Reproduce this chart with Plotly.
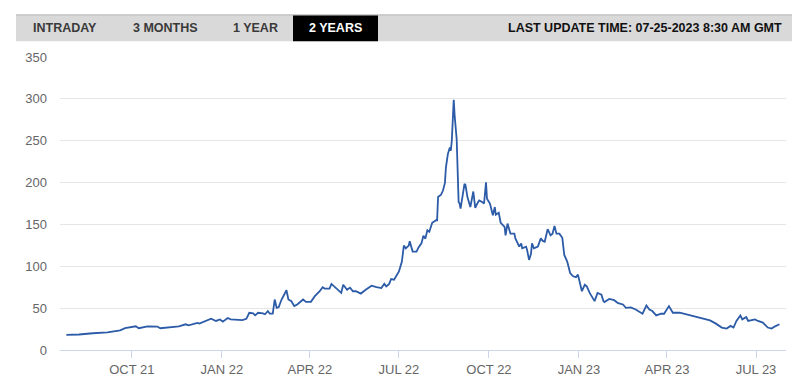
import plotly.graph_objects as go

dates = [
    "2021-07-26", "2021-08-08", "2021-08-22", "2021-09-06", "2021-09-19", "2021-09-24",
    "2021-10-05", "2021-10-08", "2021-10-17", "2021-10-27", "2021-10-30", "2021-11-08",
    "2021-11-18", "2021-11-25", "2021-11-28", "2021-12-07", "2021-12-09", "2021-12-21",
    "2021-12-26", "2021-12-30",
    "2022-01-02", "2022-01-07", "2022-01-10", "2022-01-22", "2022-01-26", "2022-01-29",
    "2022-02-02", "2022-02-04", "2022-02-07", "2022-02-12", "2022-02-14", "2022-02-17",
    "2022-02-19", "2022-02-22", "2022-02-24", "2022-02-26", "2022-02-28", "2022-03-03",
    "2022-03-08", "2022-03-10", "2022-03-13", "2022-03-16", "2022-03-19", "2022-03-25",
    "2022-03-28", "2022-04-02", "2022-04-06", "2022-04-11", "2022-04-14", "2022-04-16",
    "2022-04-21", "2022-04-23", "2022-04-28", "2022-05-03", "2022-05-05", "2022-05-09",
    "2022-05-12", "2022-05-15", "2022-05-18", "2022-05-23", "2022-05-28", "2022-06-03",
    "2022-06-08", "2022-06-13", "2022-06-16", "2022-06-18", "2022-06-21", "2022-06-23",
    "2022-06-26", "2022-06-30", "2022-07-01", "2022-07-04", "2022-07-06", "2022-07-08",
    "2022-07-11", "2022-07-12", "2022-07-15", "2022-07-19", "2022-07-21", "2022-07-24",
    "2022-07-26", "2022-07-28", "2022-07-30", "2022-08-01", "2022-08-04", "2022-08-08",
    "2022-08-09", "2022-08-10", "2022-08-13", "2022-08-15", "2022-08-17", "2022-08-18",
    "2022-08-20", "2022-08-22", "2022-08-23", "2022-08-24", "2022-08-26", "2022-08-27",
    "2022-08-29", "2022-08-31", "2022-09-01", "2022-09-02", "2022-09-04", "2022-09-06",
    "2022-09-07", "2022-09-09", "2022-09-11", "2022-09-12", "2022-09-15", "2022-09-17",
    "2022-09-19", "2022-09-21", "2022-09-24", "2022-09-26", "2022-09-28", "2022-09-29",
    "2022-10-02", "2022-10-05", "2022-10-07", "2022-10-08", "2022-10-11", "2022-10-13",
    "2022-10-17", "2022-10-18", "2022-10-20", "2022-10-23", "2022-10-27", "2022-10-28",
    "2022-11-01", "2022-11-03", "2022-11-04", "2022-11-08", "2022-11-09", "2022-11-11",
    "2022-11-13", "2022-11-14", "2022-11-16", "2022-11-20", "2022-11-23", "2022-11-25",
    "2022-11-27", "2022-11-30", "2022-12-03", "2022-12-05", "2022-12-07", "2022-12-09",
    "2022-12-12", "2022-12-15", "2022-12-17", "2022-12-20", "2022-12-23", "2022-12-26",
    "2022-12-29", "2022-12-31",
    "2023-01-02", "2023-01-04", "2023-01-07", "2023-01-09", "2023-01-12", "2023-01-17",
    "2023-01-20", "2023-01-24", "2023-01-26", "2023-01-27", "2023-02-01", "2023-02-06",
    "2023-02-10", "2023-02-15", "2023-02-18", "2023-02-23", "2023-02-28", "2023-03-07",
    "2023-03-11", "2023-03-14", "2023-03-17", "2023-03-21", "2023-03-26", "2023-03-29",
    "2023-04-03", "2023-04-07", "2023-04-14", "2023-04-21", "2023-05-01", "2023-05-08",
    "2023-05-15", "2023-05-21", "2023-05-27", "2023-06-01", "2023-06-05", "2023-06-08",
    "2023-06-11", "2023-06-15", "2023-06-17", "2023-06-21", "2023-06-23", "2023-06-30",
    "2023-07-03", "2023-07-08", "2023-07-13", "2023-07-17", "2023-07-20", "2023-07-25",
]

values = [
    18, 18.5, 20, 21, 23.5, 26,
    28.3, 26, 28.3, 28, 26, 27,
    28.3, 30.7, 29.5, 32.3, 31.5, 37.4,
    34.7, 36.5,
    33.9, 38.2, 36.7, 35.8, 37.2, 44.5,
    43.8, 41.4, 44.5, 43.8, 42.7, 46.5,
    43.4, 43.4, 60.3, 50.4, 51, 60.3,
    71.4, 60.3, 58.3, 52.4, 54.4, 60.3,
    57.5, 57.5, 64.3, 70.2, 75, 73.4,
    73.4, 78.9, 74, 68.2, 78, 72,
    74.5, 70.2, 70.2, 67.4, 72, 76.8,
    75, 74, 79.2, 76, 79, 84.8,
    84, 90.7, 93.9, 105.7, 124.7, 121.5,
    124.7, 130, 117.6, 117.6, 122.5, 127.4,
    136.5, 133, 143, 141.2, 151.9, 155,
    155, 182.7, 185.4, 190.5, 199.6, 218,
    234, 242, 238, 249.7, 299, 279,
    252, 176.7, 175, 168.8, 186.6, 198.4,
    197.3, 182.7, 174.8, 170.8, 189.3, 169.7,
    174.8, 178.7, 176.7, 175, 200.4, 180.7,
    175, 161, 170.8, 161.7, 164, 152,
    147, 137, 151, 139, 139, 133.3,
    123.5, 127.4, 121.5, 123.5, 119.5, 107.6,
    115, 127.4, 121.5, 123.5, 133.3, 130.3,
    129.4, 144.3, 137, 139, 148.3, 139,
    139, 134, 113.5, 105.7, 91.9, 88,
    87, 90,
    80, 70.2, 78, 76, 68.2, 58.4,
    68.2, 66, 58.4, 57.2, 61, 59.5,
    56, 54.4, 50.4, 51, 48.4, 43.3,
    53.2, 48.4, 46.5, 41.3, 43.3, 43.3,
    52.4, 44.5, 44.5, 42.5, 39.4, 37.4,
    35.4, 31.5, 26.8, 25.6, 28.8, 26.8,
    34.7, 41.3, 36.6, 39.4, 34.7, 36.6,
    34.7, 32.7, 26.8, 25.6, 28, 30.7,
]

tick_dates = ["2021-10-01", "2022-01-01", "2022-04-01", "2022-07-01",
              "2022-10-01", "2023-01-01", "2023-04-01", "2023-07-01"]
tick_labels = ["OCT 21", "JAN 22", "APR 22", "JUL 22",
               "OCT 22", "JAN 23", "APR 23", "JUL 23"]
y_ticks = [0, 50, 100, 150, 200, 250, 300, 350]

tabs = ["INTRADAY", "3 MONTHS", "1 YEAR", "2 YEARS"]
tab_centers_px = [65, 165.5, 255.5, 335.5]
update_text = "LAST UPDATE TIME: 07-25-2023 8:30 AM GMT"

# page body adds an 8px offset; target page positions below are absolute
OFF = 8
W, H = 800 - OFF, 389 - OFF
PLOT_L, PLOT_R, PLOT_T, PLOT_B = 60, 786, 57, 353
ML = PLOT_L - OFF
MT = PLOT_T - OFF
PW = PLOT_R - PLOT_L
PH = PLOT_B - PLOT_T
MR = W - ML - PW
MB = H - MT - PH


def px_x(px):
    return (px - PLOT_L) / PW


def px_y(py):
    return (PLOT_B - py) / PH


fig = go.Figure()
fig.add_trace(go.Scatter(
    x=dates, y=values, mode="lines",
    line=dict(color="#2c5ba8", width=1.8),
    hoverinfo="skip", showlegend=False,
))

shapes = [
    dict(type="rect", xref="paper", yref="paper",
         x0=px_x(16), x1=px_x(795), y0=px_y(41), y1=px_y(14),
         fillcolor="#d9d9d9", line=dict(width=0), layer="above"),
    dict(type="line", xref="paper", yref="paper",
         x0=px_x(16), x1=px_x(795), y0=px_y(14.5), y1=px_y(14.5),
         line=dict(color="#b8b8b8", width=1), layer="above"),
    dict(type="rect", xref="paper", yref="paper",
         x0=px_x(293), x1=px_x(378), y0=px_y(41), y1=px_y(15),
         fillcolor="#000000", line=dict(width=0), layer="above"),
]

annotations = []
for i, (t, cx) in enumerate(zip(tabs, tab_centers_px)):
    annotations.append(dict(
        text=t, xref="paper", yref="paper", x=px_x(cx), y=px_y(28),
        xanchor="center", yanchor="middle", showarrow=False,
        font=dict(family="Liberation Sans, Arial, sans-serif", size=12.5,
                  color="#ffffff" if i == 3 else "#3a3a3a", weight="bold"),
    ))
annotations.append(dict(
    text=update_text, xref="paper", yref="paper", x=px_x(783.5), y=px_y(28),
    xanchor="right", yanchor="middle", showarrow=False,
    font=dict(family="Liberation Sans, Arial, sans-serif", size=12.5,
              color="#111111", weight="bold"),
))

fig.update_layout(
    width=W, height=H,
    margin=dict(l=ML, r=MR, t=MT, b=MB, pad=0),
    paper_bgcolor="#ffffff", plot_bgcolor="#ffffff",
    font=dict(family="Liberation Sans, Arial, sans-serif", size=13, color="#666666"),
    xaxis=dict(
        type="date",
        range=["2021-07-19 12:00", "2023-07-31 16:00"],
        tickvals=tick_dates, ticktext=tick_labels,
        showgrid=False, zeroline=False,
        showline=True, linecolor="#ccd6eb", linewidth=1,
        ticks="outside", ticklen=7, tickcolor="#ccd6eb", tickwidth=1,
        tickfont=dict(size=13, color="#666666"),
        fixedrange=True,
    ),
    yaxis=dict(
        range=[0, 350],
        tickvals=y_ticks,
        showgrid=True, gridcolor="#e6e6e6", gridwidth=1,
        zeroline=False, showline=False,
        ticks="", ticklabelstandoff=12,
        tickfont=dict(size=13, color="#666666"),
        fixedrange=True,
    ),
    shapes=shapes,
    annotations=annotations,
    hovermode=False,
)

fig.write_html("out.html")
